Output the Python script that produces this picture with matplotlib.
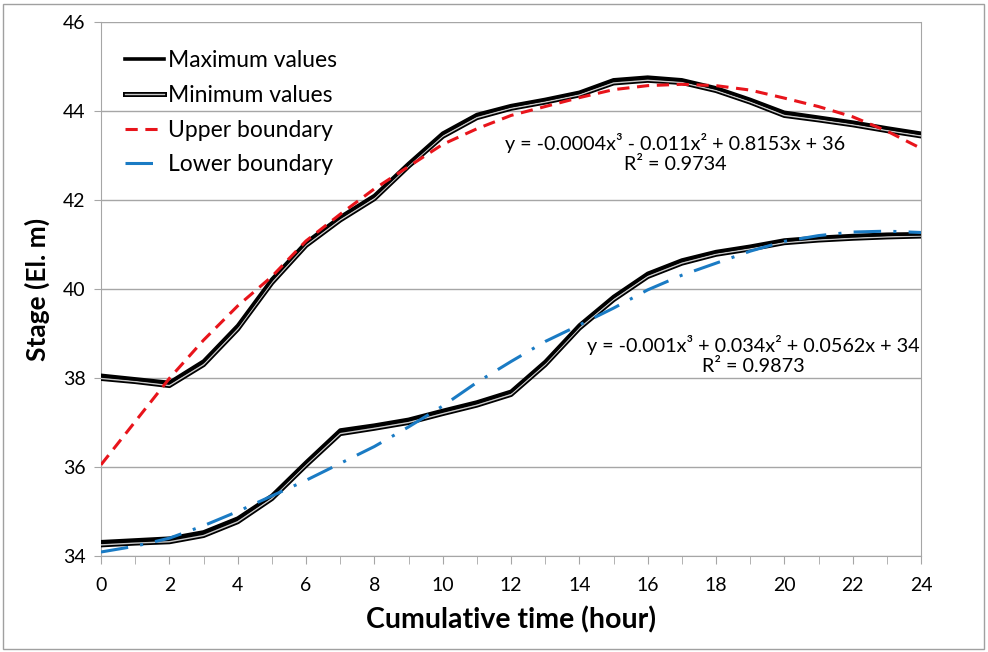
import matplotlib.pyplot as plt
import matplotlib.patheffects as pe
from matplotlib.patches import Rectangle

plt.rcParams['font.family'] = ['Lato', 'DejaVu Sans']

# hours 0..24
hours = list(range(25))

# upper band (stage, El. m)
upper_max = [38.06, 37.98, 37.90, 38.38, 39.18, 40.22, 41.05, 41.62, 42.10, 42.82, 43.50,
             43.92, 44.12, 44.26, 44.42, 44.70, 44.76, 44.70, 44.52, 44.26, 43.97, 43.86,
             43.75, 43.62, 43.50]
upper_min = [37.99, 37.92, 37.83, 38.30, 39.10, 40.14, 40.98, 41.55, 42.03, 42.76, 43.43,
             43.85, 44.06, 44.20, 44.36, 44.63, 44.69, 44.64, 44.46, 44.20, 43.90, 43.80,
             43.69, 43.56, 43.44]
upper_fit = [36.05, 37.02, 37.99, 38.85, 39.62, 40.28, 41.08, 41.68, 42.25, 42.75, 43.25,
             43.60, 43.90, 44.10, 44.30, 44.48, 44.57, 44.60, 44.57, 44.47, 44.29, 44.10,
             43.87, 43.55, 43.16]

# lower band
lower_max = [34.32, 34.36, 34.40, 34.54, 34.85, 35.36, 36.11, 36.83, 36.94, 37.07, 37.27,
             37.46, 37.70, 38.37, 39.19, 39.83, 40.35, 40.65, 40.84, 40.96, 41.10, 41.16,
             41.20, 41.23, 41.24]
lower_min = [34.25, 34.29, 34.32, 34.46, 34.77, 35.29, 36.04, 36.75, 36.87, 37.00, 37.20,
             37.39, 37.63, 38.30, 39.12, 39.76, 40.28, 40.58, 40.78, 40.90, 41.04, 41.10,
             41.14, 41.17, 41.19]
lower_fit = [34.09, 34.22, 34.40, 34.68, 35.00, 35.35, 35.70, 36.08, 36.46, 36.90, 37.37,
             37.90, 38.37, 38.82, 39.19, 39.57, 39.98, 40.31, 40.58, 40.85, 41.07, 41.20,
             41.28, 41.30, 41.27]

upper_eq = "y = -0.0004x\u00b3 - 0.011x\u00b2 + 0.8153x + 36\nR\u00b2 = 0.9734"
lower_eq = "y = -0.001x\u00b3 + 0.034x\u00b2 + 0.0562x + 34\nR\u00b2 = 0.9873"

W, H = 988, 652
fig = plt.figure(figsize=(W / 100, H / 100), dpi=100)
ax = fig.add_axes([101 / W, (H - 556) / H, 820 / W, 534 / H])

grid_c = '#a6a6a6'
min_fx = [pe.Stroke(linewidth=3.6, foreground='black'), pe.Normal()]

# double-looking black lines: min drawn with a light core, max solid on top
ax.plot(hours, upper_min, color='#c8c8c8', lw=1.0, path_effects=min_fx,
        label='Minimum values', zorder=3)
ax.plot(hours, lower_min, color='#c8c8c8', lw=1.0, path_effects=min_fx, zorder=3)
ax.plot(hours, upper_max, color='black', lw=2.6, label='Maximum values', zorder=4)
ax.plot(hours, lower_max, color='black', lw=2.6, zorder=4)

ax.plot(hours, upper_fit, color='#e8141b', lw=2.2, dashes=(4, 2.5),
        label='Upper boundary', zorder=5)
ax.plot(hours, lower_fit, color='#1a7bc4', lw=2.2, dashes=(9, 4, 1, 4),
        label='Lower boundary', zorder=5)

ax.set_xlim(0, 24)
ax.set_ylim(34, 46)
ax.set_xticks(range(0, 25, 2))
ax.set_xticks(range(25), minor=True)
ax.set_yticks(range(34, 47, 2))
ax.yaxis.grid(True, color=grid_c, lw=1)
ax.set_axisbelow(True)
for s in ax.spines.values():
    s.set_color(grid_c)
ax.spines['top'].set_visible(False)
ax.tick_params(axis='both', which='both', color=grid_c, direction='out', labelsize=14)
ax.tick_params(axis='x', which='major', length=6, pad=9)
ax.tick_params(axis='x', which='minor', length=6)
ax.tick_params(axis='y', length=5, pad=6)

ax.set_xlabel('Cumulative time (hour)', fontsize=20.5, fontweight='bold', labelpad=9)
ax.set_ylabel('Stage (El. m)', fontsize=19, fontweight='bold', labelpad=9)

handles, labels = ax.get_legend_handles_labels()
order = [1, 0, 2, 3]
ax.legend([handles[i] for i in order], [labels[i] for i in order],
          loc='upper left', bbox_to_anchor=(0.004, 0.986), frameon=False,
          fontsize=16.5, handlelength=1.7, handletextpad=0.17, labelspacing=0.6)

ax.text(16.8, 43.05, upper_eq, ha='center', va='center', fontsize=14.2,
        linespacing=1.2)
ax.text(19.1, 38.52, lower_eq, ha='center', va='center', fontsize=14.2,
        linespacing=1.2)

fig.patches.append(Rectangle((3 / W, 3 / H), 981 / W, 645 / H, transform=fig.transFigure,
                             fill=False, edgecolor='#a0a0a0', lw=1))

fig.savefig('out.png', dpi=100)
